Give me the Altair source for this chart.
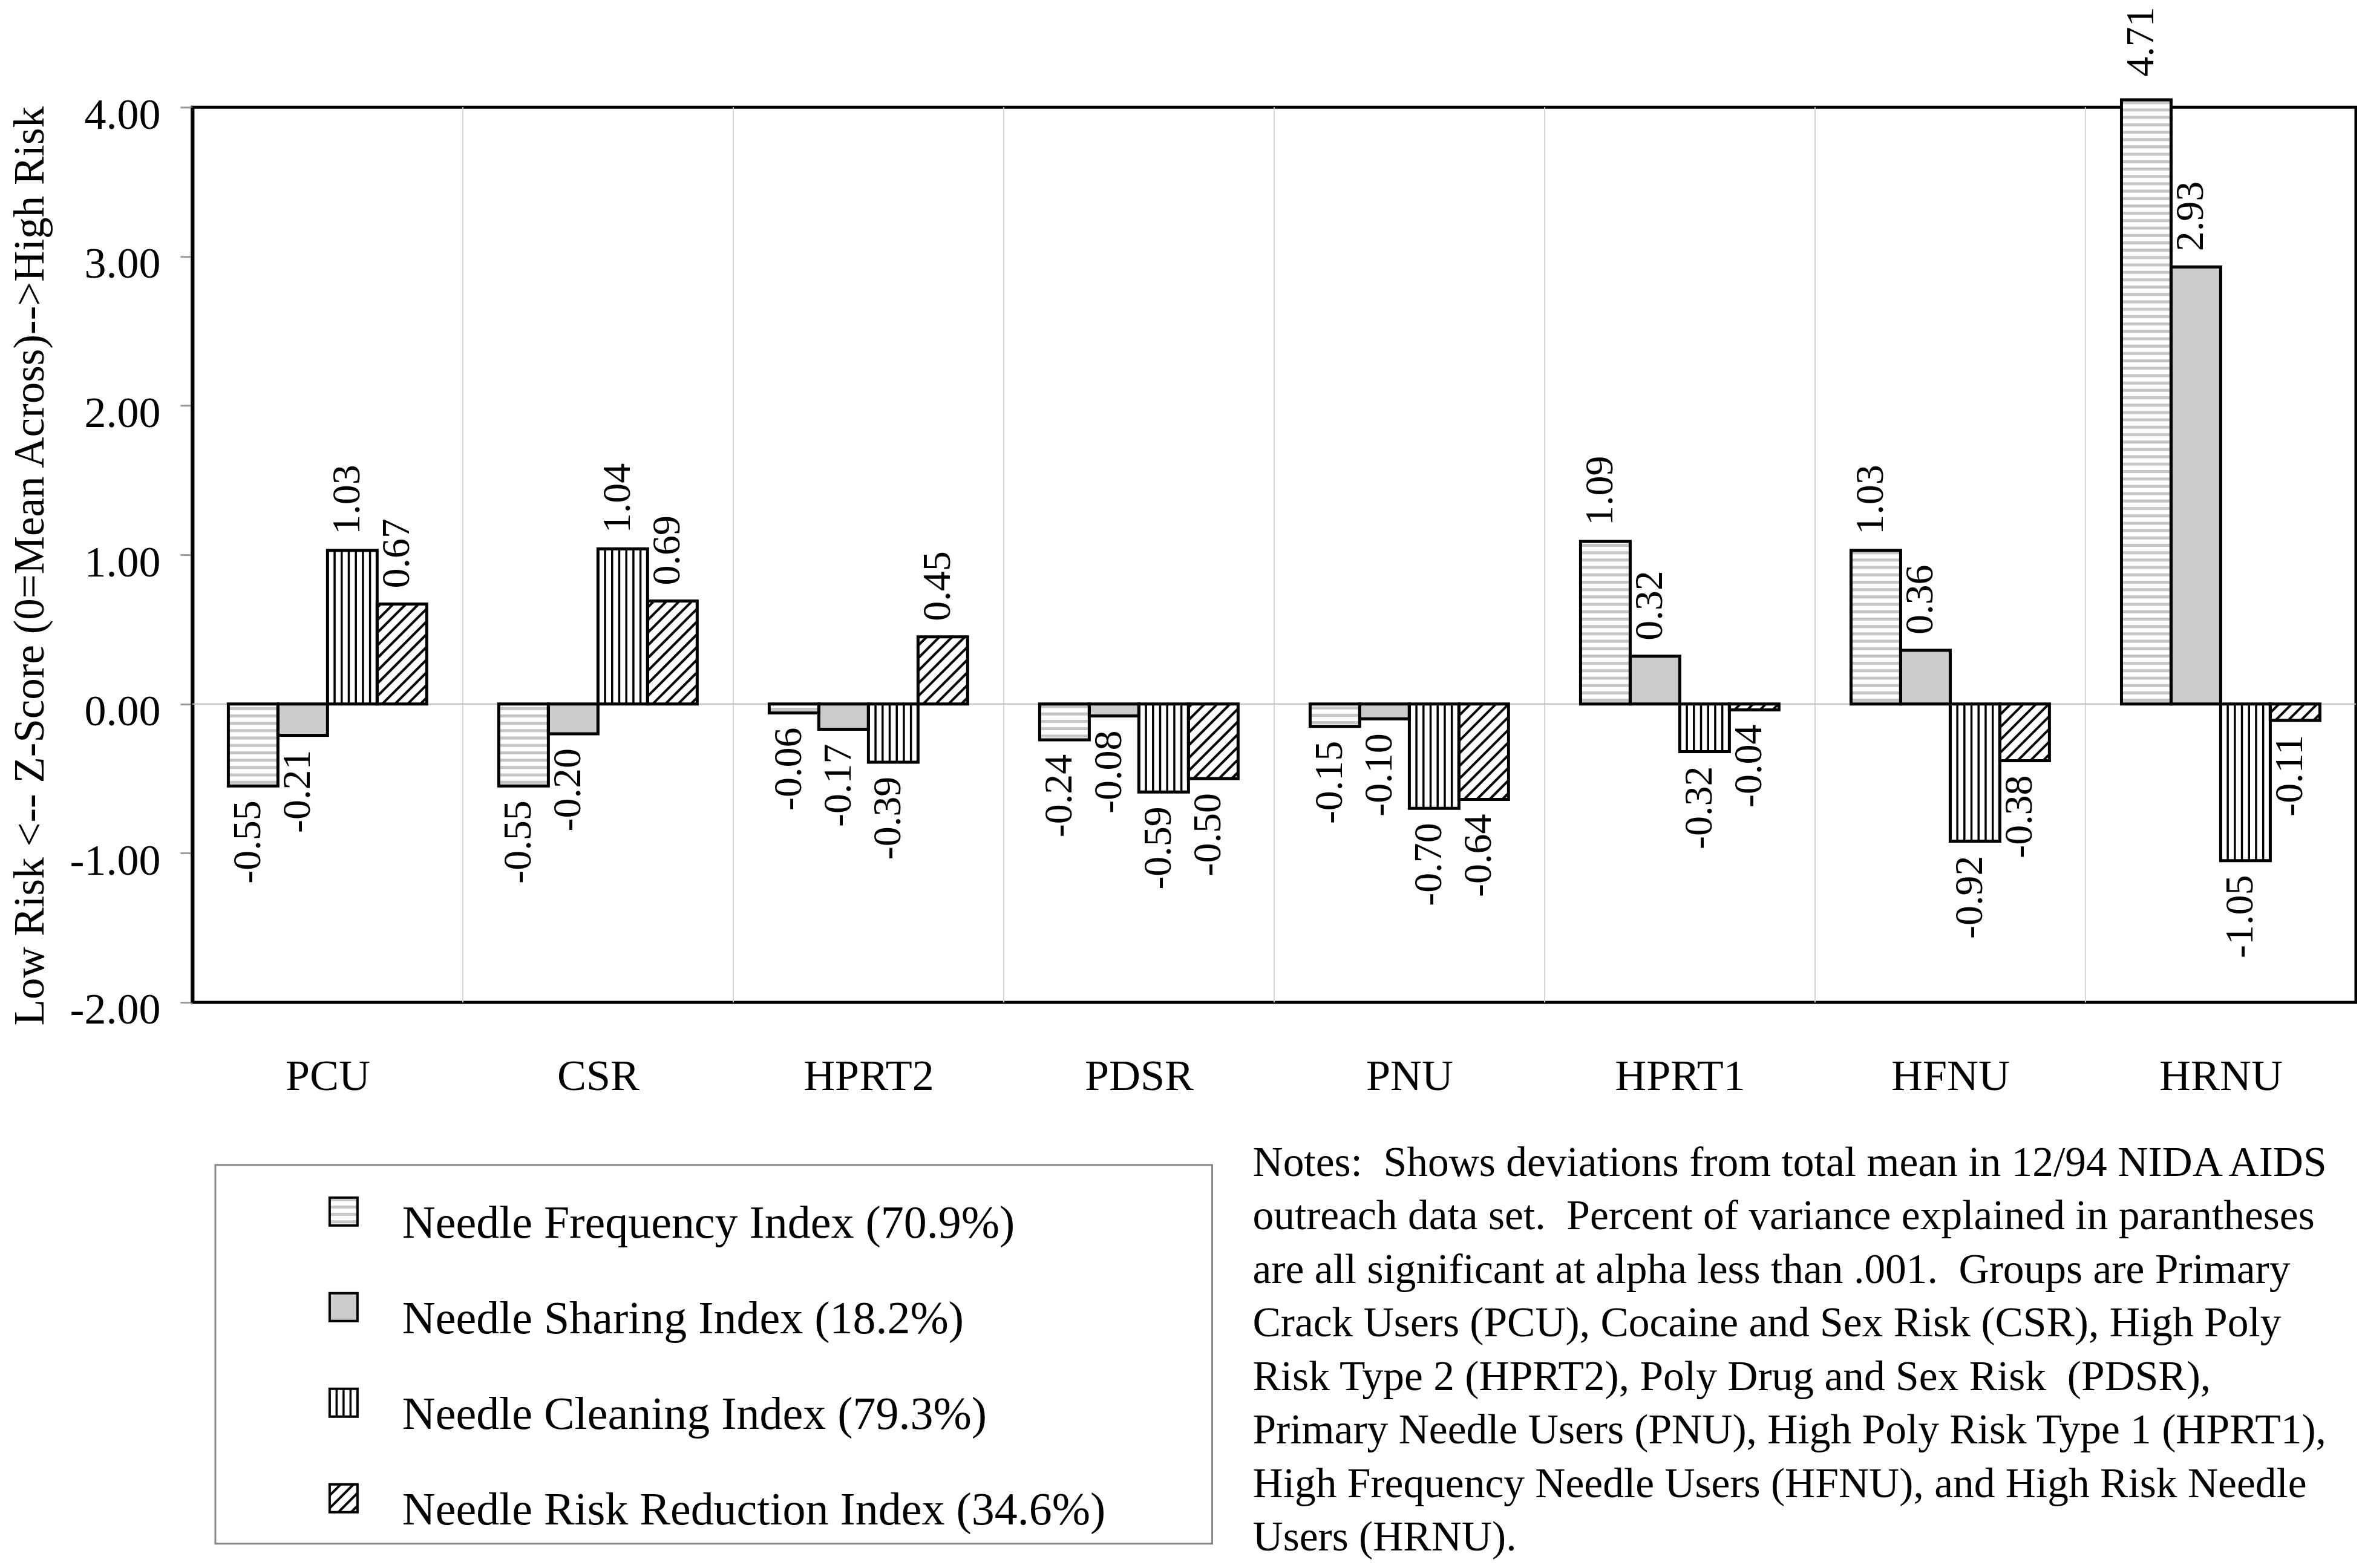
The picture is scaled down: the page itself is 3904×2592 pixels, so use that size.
import json
import altair as alt
import pandas as pd

# ---------------- data ----------------
CATEGORIES = ["PCU", "CSR", "HPRT2", "PDSR", "PNU", "HPRT1", "HFNU", "HRNU"]
SERIES = [
    "Needle Frequency Index (70.9%)",
    "Needle Sharing Index (18.2%)",
    "Needle Cleaning Index (79.3%)",
    "Needle Risk Reduction Index (34.6%)",
]
FREQUENCY = [-0.55, -0.55, -0.06, -0.24, -0.15, 1.09, 1.03, 4.71]
SHARING = [-0.21, -0.20, -0.17, -0.08, -0.10, 0.32, 0.36, 2.93]
CLEANING = [1.03, 1.04, -0.39, -0.59, -0.70, -0.32, -0.92, -1.05]
RISK_REDUCTION = [0.67, 0.69, 0.45, -0.50, -0.64, -0.04, -0.38, -0.11]
Y_TICKS = [-2, -1, 0, 1, 2, 3, 4]
Y_TITLE = "Low Risk <-- Z-Score (0=Mean Across)-->High Risk"
NOTE_LINES = [
    "Notes:\u00a0 Shows deviations from total mean in 12/94 NIDA AIDS",
    "outreach data set.\u00a0 Percent of variance explained in parantheses",
    "are all significant at alpha less than .001.\u00a0 Groups are Primary",
    "Crack Users (PCU), Cocaine and Sex Risk (CSR), High Poly",
    "Risk Type 2 (HPRT2), Poly Drug and Sex Risk\u00a0 (PDSR),",
    "Primary Needle Users (PNU), High Poly Risk Type 1 (HPRT1),",
    "High Frequency Needle Users (HFNU), and High Risk Needle",
    "Users (HRNU).",
]

VALUES = [FREQUENCY, SHARING, CLEANING, RISK_REDUCTION]
rows = []
for si, (name, vals) in enumerate(zip(SERIES, VALUES)):
    for ci, (cat, v) in enumerate(zip(CATEGORIES, vals)):
        rows.append({"cat": cat, "ci": ci, "series": name, "si": si, "value": v})
df = pd.DataFrame(rows)
leg_df = pd.DataFrame({"series": SERIES, "si": list(range(len(SERIES)))})

# ---------------- layout / style ----------------
FONT = "Liberation Serif"
W, H = 3577, 1480
Y_MIN, Y_MAX = -2, 4
NCAT = len(CATEGORIES)
PXX = W / NCAT
PXY = H / (Y_MAX - Y_MIN)
G0 = 0.133          # group offset inside a category (category units)
BW = 0.1834         # bar width (category units)
BAR_CLIP = 4.05
LABEL_CLIP = 4.10
HSTEP = 12.2        # px spacing of gray horizontal lines
VSTEP = 11.7        # px spacing of vertical lines
DSTEP = 21.0        # px spacing of diagonal lines
FREQ_LINE = "#c6c6c6"
SHARE_FILL = "#cbcbcb"

XS = alt.Scale(domain=[0, NCAT], nice=False, zero=False)
YS = alt.Scale(domain=[Y_MIN, Y_MAX], nice=False, zero=False)

X_AXIS = alt.Axis(
    values=[i + 0.5 for i in range(NCAT)],
    labelExpr=f"{json.dumps(CATEGORIES)}[floor(datum.value)]",
    domain=False, ticks=False, tickSize=0, grid=False,
    labelFontSize=72, labelFont=FONT, labelColor="black", labelLimit=0,
    labelPadding=88, labelFlush=False, labelOverlap=False, title=None,
)
Y_AXIS = alt.Axis(
    values=Y_TICKS,
    labelExpr="replace(format(datum.value, '.2f'), '\u2212', '-')",
    domain=True, domainColor="black", domainWidth=6,
    ticks=True, tickColor="#9a9a9a", tickWidth=3, tickSize=20,
    grid=False, labelFontSize=72, labelFont=FONT, labelColor="black", labelLimit=0,
    labelPadding=33, labelBaseline="middle", labelOffset=13,
    labelOverlap=False, labelFlush=False,
    title=Y_TITLE, titleFont=FONT, titleFontSize=71, titleFontWeight="normal",
    titleColor="black", titleAngle=270, titleAlign="center", titleLimit=0,
    titleBaseline="alphabetic", titleX=-246, titleY=758,
)


def X(field):
    return alt.X(field, type="quantitative", scale=XS, axis=X_AXIS)


def Y(field):
    return alt.Y(field, type="quantitative", scale=YS, axis=Y_AXIS)


FILL_SCALE = alt.Scale(domain=SERIES, range=["white", SHARE_FILL, "white", "white"])


def enc_rect(chart):
    return chart.encode(x=X("_L"), x2="_R:Q", y=Y("_B"), y2="_T:Q")


def with_size(chart):
    return chart.transform_calculate(
        _W=f"(datum._R - datum._L) * {PXX}"
    ).transform_calculate(
        _H=f"(datum._T - datum._B) * {PXY}"
    )


def hatch_layers(base, border):
    horiz = (
        base.transform_filter("datum.si == 0")
        .transform_calculate(arr=f"sequence({HSTEP / 2}, datum._H, {HSTEP})")
        .transform_flatten(["arr"])
        .transform_calculate(yy=f"datum._B + datum.arr / {PXY}")
        .mark_rule(color=FREQ_LINE, strokeWidth=5)
        .encode(x=X("_L"), x2="_R:Q", y=Y("yy"))
    )
    vert = (
        base.transform_filter("datum.si == 2")
        .transform_calculate(nv=f"max(1, round(datum._W / {VSTEP}) - 1)")
        .transform_calculate(arr="sequence(1, datum.nv + 1)")
        .transform_flatten(["arr"])
        .transform_calculate(xx=f"datum._L + datum.arr * datum._W / (datum.nv + 1) / {PXX}")
        .mark_rule(color="black", strokeWidth=3.5)
        .encode(x=X("xx"), y=Y("_B"), y2="_T:Q")
    )
    diag = (
        base.transform_filter("datum.si == 3")
        .transform_calculate(arr=f"sequence(-datum._W + {DSTEP / 2}, datum._H, {DSTEP})")
        .transform_flatten(["arr"])
        .transform_calculate(u0="max(0, -datum.arr)")
        .transform_calculate(u1="min(datum._W, datum._H - datum.arr)")
        .transform_filter("datum.u1 - datum.u0 > 1")
        .transform_calculate(
            xa=f"datum._L + datum.u0 / {PXX}",
            xb=f"datum._L + datum.u1 / {PXX}",
            ya=f"datum._B + (datum.u0 + datum.arr) / {PXY}",
            yb=f"datum._B + (datum.u1 + datum.arr) / {PXY}",
        )
        .mark_rule(color="black", strokeWidth=4)
        .encode(x=X("xa"), x2="xb:Q", y=Y("ya"), y2="yb:Q")
    )
    fill = enc_rect(base.mark_rect(strokeWidth=0)).encode(
        fill=alt.Fill("series:N", scale=FILL_SCALE, legend=None)
    )
    outline = enc_rect(base.mark_rect(fillOpacity=0, stroke="black", strokeWidth=border))
    return [fill, horiz, vert, diag, outline]


# ---------------- main bars ----------------
bar_base = with_size(
    alt.Chart(df)
    .transform_calculate(vbar=f"min(datum.value, {BAR_CLIP})")
    .transform_calculate(_L=f"datum.ci + {G0} + datum.si * {BW}")
    .transform_calculate(_R=f"datum._L + {BW}")
    .transform_calculate(_B="min(0, datum.vbar)")
    .transform_calculate(_T="max(0, datum.vbar)")
)

grid = (
    alt.Chart(df)
    .transform_filter("datum.si == 0 && datum.ci > 0")
    .mark_rule(color="#d4d4d4", strokeWidth=2)
    .encode(x=X("ci"), y=alt.value(0), y2=alt.value(H))
)
zero = (
    alt.Chart(df)
    .transform_filter("datum.si == 0 && datum.ci == 0")
    .transform_calculate(z="0")
    .mark_rule(color="#bdbdbd", strokeWidth=2)
    .encode(y=Y("z"), x=alt.value(0), x2=alt.value(W))
)

label_base = bar_base.transform_calculate(
    cx=f"datum._L + {BW / 2}",
    ly=f"min(datum.value, {LABEL_CLIP})",
    lab="replace(format(datum.value, '.2f'), '\u2212', '-')",
)
pos_labels = (
    label_base.transform_filter("datum.value >= 0")
    .mark_text(angle=270, align="left", baseline="alphabetic", dx=26, dy=12,
               fontSize=66, font=FONT, color="black")
    .encode(x=X("cx"), y=Y("ly"), text="lab:N")
)
neg_labels = (
    label_base.transform_filter("datum.value < 0")
    .mark_text(angle=270, align="right", baseline="alphabetic", dx=-24, dy=12,
               fontSize=66, font=FONT, color="black")
    .encode(x=X("cx"), y=Y("ly"), text="lab:N")
)

# ---------------- legend (drawn below the plot) ----------------
LEG_SX0, LEG_SS = 227, 46
LEG_ROW0, LEG_DY = 1826, 158
LEG_TX = 347
LEG_TXT_DY = 43

leg_base = with_size(
    alt.Chart(leg_df)
    .transform_calculate(rowc=f"{LEG_ROW0} + datum.si * {LEG_DY}")
    .transform_calculate(_L=f"{LEG_SX0 / PXX}")
    .transform_calculate(_R=f"{(LEG_SX0 + LEG_SS) / PXX}")
    .transform_calculate(_B=f"{Y_MAX} - (datum.rowc + {LEG_SS / 2}) / {PXY}")
    .transform_calculate(_T=f"{Y_MAX} - (datum.rowc - {LEG_SS / 2}) / {PXY}")
)
leg_box = (
    alt.Chart(alt.Data(values=[{}]))
    .mark_rect(fillOpacity=0, stroke="#8a8a8a", strokeWidth=3)
    .encode(x=alt.value(38), x2=alt.value(1686), y=alt.value(1749), y2=alt.value(2375))
)
leg_text = (
    leg_base.transform_calculate(
        tx=f"{LEG_TX / PXX}",
        ty=f"{Y_MAX} - (datum.rowc + {LEG_TXT_DY}) / {PXY}",
    )
    .mark_text(align="left", baseline="alphabetic", fontSize=76, font=FONT, color="black")
    .encode(x=X("tx"), y=Y("ty"), text="series:N")
)

notes = (
    alt.Chart(alt.Data(values=[{}]))
    .mark_text(text="\n".join(NOTE_LINES), lineBreak="\n", align="left", baseline="alphabetic",
               fontSize=69.5, lineHeight=88.5, font=FONT, color="black")
    .encode(x=alt.value(1753), y=alt.value(1767))
)

layers = [grid, zero] + hatch_layers(bar_base, 5) + [pos_labels, neg_labels, leg_box] \
    + hatch_layers(leg_base, 4) + [leg_text, notes]

chart = (
    alt.layer(*layers)
    .properties(
        width=W, height=H,
        autosize=alt.AutoSizeParams(type="none"),
        padding={"left": 310, "top": 169, "right": 2, "bottom": 925},
        background="white",
    )
    .configure(font=FONT)
    .configure_view(stroke="black", strokeWidth=5)
)

chart.save("out.html", embed_options={"renderer": "svg", "actions": False})
